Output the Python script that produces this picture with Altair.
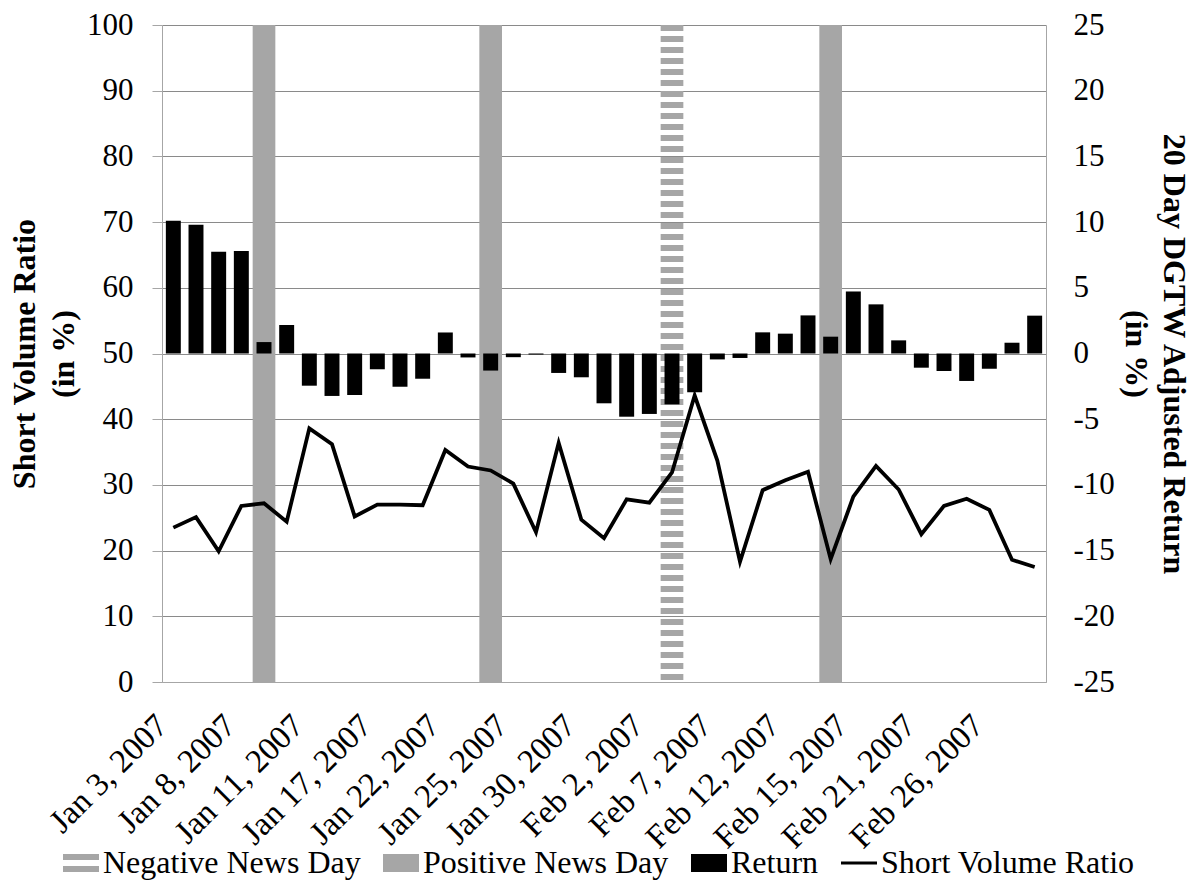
import altair as alt
import pandas as pd

# ---- data ----
dates = [
    "Jan 3, 2007", "Jan 4, 2007", "Jan 5, 2007", "Jan 8, 2007", "Jan 9, 2007",
    "Jan 10, 2007", "Jan 11, 2007", "Jan 12, 2007", "Jan 16, 2007", "Jan 17, 2007",
    "Jan 18, 2007", "Jan 19, 2007", "Jan 22, 2007", "Jan 23, 2007", "Jan 24, 2007",
    "Jan 25, 2007", "Jan 26, 2007", "Jan 29, 2007", "Jan 30, 2007", "Jan 31, 2007",
    "Feb 1, 2007", "Feb 2, 2007", "Feb 5, 2007", "Feb 6, 2007", "Feb 7, 2007",
    "Feb 8, 2007", "Feb 9, 2007", "Feb 12, 2007", "Feb 13, 2007", "Feb 14, 2007",
    "Feb 15, 2007", "Feb 16, 2007", "Feb 20, 2007", "Feb 21, 2007", "Feb 22, 2007",
    "Feb 23, 2007", "Feb 26, 2007", "Feb 27, 2007", "Feb 28, 2007",
]
tick_labels = [
    "Jan 3, 2007", "Jan 8, 2007", "Jan 11, 2007", "Jan 17, 2007", "Jan 22, 2007",
    "Jan 25, 2007", "Jan 30, 2007", "Feb 2, 2007", "Feb 7, 2007", "Feb 12, 2007",
    "Feb 15, 2007", "Feb 21, 2007", "Feb 26, 2007",
]
returns = [
    10.1, 9.8, 7.75, 7.8, 0.87, 2.17, -2.45, -3.23, -3.16, -1.2,
    -2.53, -1.92, 1.6, -0.3, -1.3, -0.28, -0.08, -1.48, -1.81, -3.79,
    -4.81, -4.6, -3.87, -2.95, -0.45, -0.34, 1.61, 1.51, 2.9, 1.28,
    4.72, 3.74, 1.0, -1.08, -1.33, -2.09, -1.16, 0.82, 2.88,
]
short_volume_ratio = [
    23.5, 25.1, 19.9, 26.8, 27.2, 24.4, 38.6, 36.2, 25.2, 27.0,
    27.0, 26.9, 35.3, 32.8, 32.2, 30.2, 22.8, 36.4, 24.7, 21.9,
    27.8, 27.3, 31.9, 43.6, 33.7, 18.3, 29.2, 30.7, 32.0, 18.7,
    28.2, 32.9, 29.3, 22.5, 26.8, 27.9, 26.2, 18.6, 17.5,
]
positive_news_days = ["Jan 9, 2007", "Jan 24, 2007", "Feb 14, 2007"]
negative_news_days = ["Feb 5, 2007"]

legend_names = ["Negative News Day", "Positive News Day", "Return", "Short Volume Ratio"]

# ---- tables ----
main_df = pd.DataFrame({"date": dates, "ret": returns, "svr": short_volume_ratio})
pos_df = pd.DataFrame({"date": positive_news_days, "top": [100] * len(positive_news_days)})
neg_df = pd.DataFrame({"date": negative_news_days, "top": [100] * len(negative_news_days),
                       "bottom": [0] * len(negative_news_days)})
leg_df = pd.DataFrame({"series": legend_names, "date": [dates[0]] * 4, "v": [300] * 4})

GRAY = "#a6a6a6"
FONT = "Liberation Serif"

xenc = alt.X("date:N", sort=dates,
             scale=alt.Scale(paddingInner=0, paddingOuter=0),
             axis=alt.Axis(values=tick_labels, labelAngle=-45, labelAlign="right",
                           labelBaseline="middle", labelPadding=38, labelOffset=-11,
                           ticks=False, tickSize=0, domainColor=GRAY, grid=False,
                           title=None, labelOverlap=False, labelFontSize=33,
                           labelLimit=0))

left_scale = alt.Scale(domain=[0, 100], nice=False, zero=False)
right_scale = alt.Scale(domain=[-25, 25], nice=False, zero=False)

left_axis = alt.Axis(orient="left", values=list(range(0, 101, 10)), grid=True,
                     gridColor="#8a8a8a", gridWidth=1, domainColor=GRAY, tickColor=GRAY,
                     tickSize=10, labelPadding=19,
                     title=["Short Volume Ratio", "(in %)"], titleAngle=270,
                     titleX=-138, titleY=328.5, titleAlign="center",
                     titleBaseline="middle", titleLineHeight=39)
right_axis = alt.Axis(orient="right", values=list(range(-25, 26, 5)), grid=False,
                      ticks=False, tickSize=0, labelPadding=27, domainColor=GRAY,
                      labelExpr="datum.value + ''",
                      title=["20 Day DGTW Adjusted Return", "(in %)"], titleAngle=90,
                      titleX=127, titleY=328.5, titleAlign="center",
                      titleBaseline="middle", titleLineHeight=38)

pos_bars = alt.Chart(pos_df).mark_bar(color=GRAY).encode(
    x=xenc,
    y=alt.Y("top:Q", scale=left_scale, axis=left_axis),
)

neg_rule = alt.Chart(neg_df).mark_rule(color=GRAY, strokeWidth=22.7,
                                       strokeDash=[6, 5], strokeCap="butt").encode(
    x=xenc,
    y=alt.Y("top:Q", scale=left_scale, axis=None),
    y2="bottom:Q",
)

ret_bars = alt.Chart(main_df).mark_bar(color="black", width=alt.RelativeBandSize(0.66)).encode(
    x=xenc,
    y=alt.Y("ret:Q", scale=right_scale, axis=right_axis),
)

line = alt.Chart(main_df).mark_line(color="black", strokeWidth=3.8).encode(
    x=xenc,
    y=alt.Y("svr:Q", scale=left_scale, axis=None),
)

paths = [
    "M-1,-0.5H1V-0.17H-1Z M-1,0.17H1V0.5H-1Z",
    "M-1,-0.5H1V0.5H-1Z",
    "M-1,-0.5H1V0.5H-1Z",
    "M-1,-0.09H1V0.09H-1Z",
]
leg_colors = [GRAY, GRAY, "black", "black"]

def make_legend():
    return alt.Legend(orient="none", legendX=-99, legendY=820, direction="horizontal",
                      columns=4, columnPadding=22, title=None, padding=0,
                      labelFont=FONT, labelFontSize=32, labelColor="black",
                      labelOffset=4, labelLimit=500, symbolSize=1296,
                      symbolStrokeWidth=0, symbolOpacity=1)

legend_pts = alt.Chart(leg_df).mark_point(filled=True, opacity=1, clip=True, size=1296).encode(
    x=xenc,
    y=alt.Y("v:Q", scale=left_scale, axis=None),
    shape=alt.Shape("series:N", scale=alt.Scale(domain=legend_names, range=paths),
                    legend=make_legend()),
    fill=alt.Fill("series:N", scale=alt.Scale(domain=legend_names, range=leg_colors),
                  legend=make_legend()),
)

chart = alt.layer(pos_bars, neg_rule, ret_bars, line, legend_pts).resolve_scale(
    y="independent"
).properties(
    width=884, height=657,
    padding={"left": 162, "top": 25, "right": 147, "bottom": 198},
    autosize=alt.AutoSizeParams(type="none"),
    background="white",
).configure(
    font=FONT,
).configure_view(stroke=None).configure_axis(
    labelFont=FONT, labelFontSize=31, labelColor="black",
    titleFont=FONT, titleFontSize=32, titleFontWeight="bold", titleColor="black",
).configure_legend(
    labelFont=FONT, labelFontSize=32, labelColor="black", labelLimit=500,
)

chart.save("out.html", embed_options={"renderer": "svg", "actions": False})
